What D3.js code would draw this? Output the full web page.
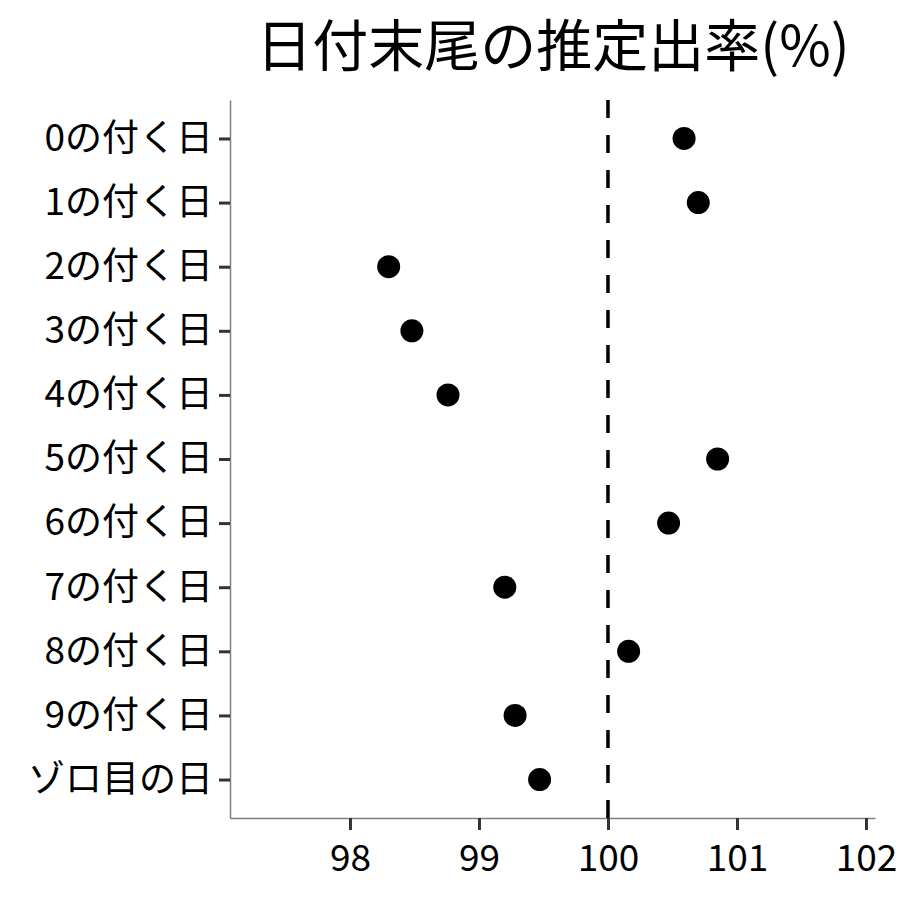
<!DOCTYPE html>
<html>
<head>
<meta charset="utf-8">
<script src="https://cdn.jsdelivr.net/npm/d3@7"></script>
<style>
  body { margin: 0; background: #fff; }
  text { font-family: "Noto Sans CJK JP", "Noto Sans", sans-serif; }
</style>
</head>
<body>
<div id="chart"></div>
<script>
// data
const categories = ['0の付く日', '1の付く日', '2の付く日', '3の付く日', '4の付く日',
    '5の付く日', '6の付く日', '7の付く日', '8の付く日', '9の付く日', 'ゾロ目の日'];
const rates = [100.59, 100.70, 98.30, 98.48, 98.76, 100.85, 100.47, 99.20, 100.16, 99.28, 99.47];
const xTicks = [98, 99, 100, 101, 102];
const refValue = 100;

const width = 900;
const height = 900;
const margin = { top: 100, right: 25, bottom: 82, left: 230 };

const svg = d3.select('#chart')
    .append('svg')
    .attr('width', width)
    .attr('height', height);

const x = d3.scaleLinear()
    .domain([97.07, 102.07])
    .range([margin.left, width - margin.right]);

const y = d3.scalePoint()
    .domain(categories)
    .range([margin.top, height - margin.bottom])
    .padding(0.6);

// title
svg.append('text')
    .text('日付末尾の推定出率(%)')
    .attr('x', 553)
    .attr('y', 66)
    .attr('text-anchor', 'middle')
    .attr('fill', '#000')
    .style('font-size', '56px');

// axes
const yAxis = svg.append('g')
    .attr('transform', `translate(${margin.left},0)`)
    .call(d3.axisLeft(y).tickSize(11).tickSizeOuter(0).tickPadding(6));

const xAxis = svg.append('g')
    .attr('transform', `translate(0,${height - margin.bottom})`)
    .call(d3.axisBottom(x).tickValues(xTicks).tickFormat(d3.format('d'))
        .tickSize(12).tickSizeOuter(0).tickPadding(8));

[yAxis, xAxis].forEach(g => {
    g.select('.domain').attr('stroke', '#7f7f7f').attr('stroke-width', 1.5);
    g.selectAll('.tick line').attr('stroke', '#333').attr('stroke-width', 3);
    g.selectAll('.tick text')
        .attr('fill', '#000')
        .style('font-size', '37px')
        .style('font-family', '"Noto Sans CJK JP", sans-serif');
});
xAxis.selectAll('.tick text').attr('dy', '0.9em');

// reference line
svg.append('line')
    .attr('x1', x(refValue))
    .attr('x2', x(refValue))
    .attr('y1', margin.top)
    .attr('y2', height - margin.bottom)
    .attr('stroke', '#000')
    .attr('stroke-width', 3.5)
    .attr('stroke-dasharray', '18,17');

// points
svg.append('g')
    .selectAll('circle')
    .data(categories)
    .join('circle')
        .attr('cx', (d, i) => x(rates[i]))
        .attr('cy', d => y(d))
        .attr('r', 11.5)
        .attr('fill', '#000');
</script>
</body>
</html>
